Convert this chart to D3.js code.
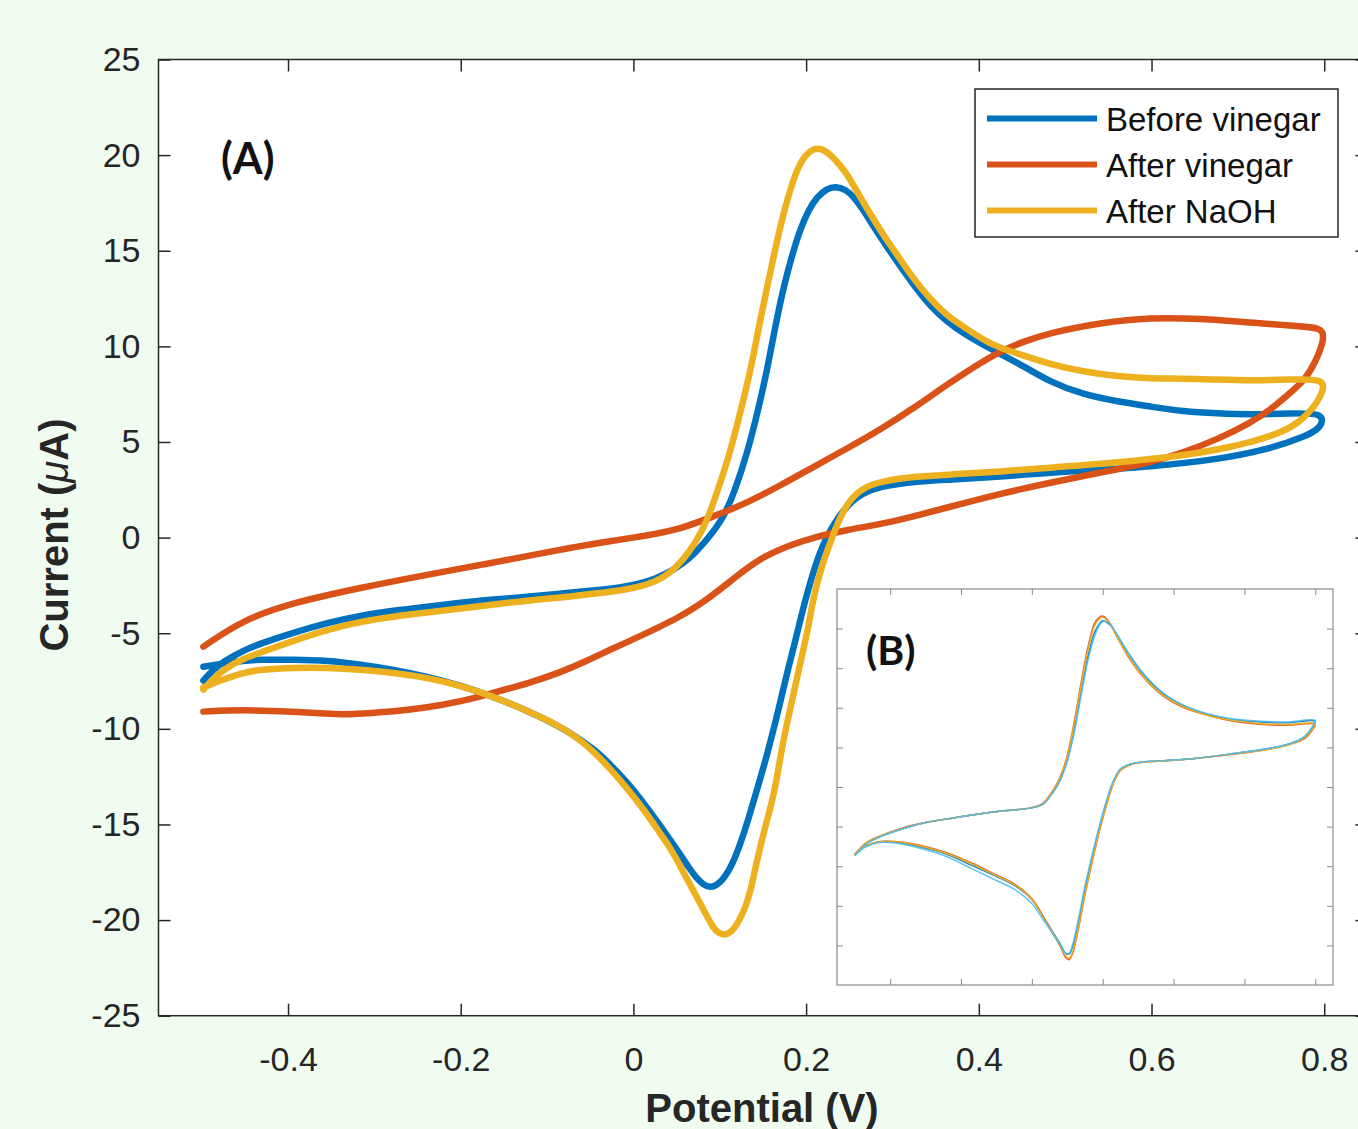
<!DOCTYPE html>
<html>
<head>
<meta charset="utf-8">
<script src="https://cdn.jsdelivr.net/npm/d3@7"></script>
<style>
  html, body { margin: 0; padding: 0; background: #effcef; overflow: hidden; }
  svg { display: block; }
</style>
</head>
<body>
<div id="chart"></div>
<script>
// ---- data (potential V, current uA) ----
// each scan: forward sweep -0.5 -> 0.8 V, then back to -0.5 V
const beforeVinegar = [
  [-0.498,-7.48],[-0.488,-6.96],[-0.473,-6.43],[-0.452,-5.91],[-0.432,-5.54],[-0.394,-4.97],[-0.354,-4.45],
  [-0.316,-4.08],[-0.278,-3.82],[-0.239,-3.61],[-0.200,-3.40],[-0.162,-3.24],[-0.123,-3.09],[-0.085,-2.93],
  [-0.046,-2.77],[-0.015,-2.62],[0.008,-2.41],[0.026,-2.14],[0.043,-1.78],[0.057,-1.36],[0.070,-0.89],
  [0.087,0.00],[0.104,0.99],[0.118,2.51],[0.132,4.45],[0.144,6.59],[0.155,8.79],[0.164,10.98],[0.174,13.13],
  [0.184,14.80],[0.193,16.11],[0.203,17.15],[0.213,17.83],[0.224,18.25],[0.234,18.36],[0.246,18.20],
  [0.255,17.83],[0.266,17.15],[0.278,16.27],[0.292,15.32],[0.306,14.38],[0.324,13.23],[0.344,12.08],
  [0.363,11.30],[0.382,10.67],[0.413,9.88],[0.445,9.15],[0.483,8.11],[0.521,7.48],[0.561,7.11],[0.599,6.85],
  [0.637,6.59],[0.676,6.49],[0.715,6.43],[0.761,6.49],[0.800,6.54],
  [0.797,5.75],[0.778,5.28],[0.734,4.60],[0.676,4.08],[0.599,3.71],[0.521,3.50],[0.483,3.40],[0.425,3.19],
  [0.367,3.03],[0.324,2.93],[0.292,2.72],[0.272,2.46],[0.258,2.09],[0.247,1.62],[0.237,1.05],[0.228,0.37],
  [0.219,-0.42],[0.211,-1.41],[0.203,-2.62],[0.195,-3.97],[0.187,-5.49],[0.178,-7.06],[0.170,-8.63],
  [0.161,-10.25],[0.152,-11.82],[0.142,-13.34],[0.133,-14.75],[0.124,-16.00],[0.115,-17.05],[0.105,-17.83],
  [0.096,-18.20],[0.089,-18.30],[0.081,-18.15],[0.073,-17.80],[0.064,-17.25],[0.054,-16.55],[0.041,-15.70],
  [0.026,-14.75],[0.008,-13.65],[-0.007,-12.80],[-0.027,-11.85],[-0.046,-11.05],[-0.067,-10.40],[-0.085,-9.88],
  [-0.123,-9.05],[-0.162,-8.32],[-0.200,-7.74],[-0.239,-7.27],[-0.278,-6.90],[-0.316,-6.64],[-0.354,-6.43],
  [-0.394,-6.38],[-0.432,-6.38],[-0.452,-6.43],[-0.476,-6.59],[-0.498,-6.75]
];

const afterVinegar = [
  [-0.498,-5.70],[-0.452,-4.29],[-0.394,-3.40],[-0.316,-2.62],[-0.239,-1.94],[-0.162,-1.31],[-0.085,-0.63],
  [-0.038,-0.26],[0.008,0.05],[0.054,0.42],[0.101,1.26],[0.132,1.83],[0.170,2.72],[0.209,3.71],[0.247,4.65],
  [0.286,5.65],[0.324,6.75],[0.363,8.00],[0.402,9.15],[0.425,9.73],[0.448,10.20],[0.483,10.72],[0.541,11.24],
  [0.599,11.51],[0.657,11.45],[0.715,11.24],[0.772,11.04],[0.801,10.98],
  [0.798,10.09],[0.790,9.21],[0.778,8.26],[0.761,7.58],[0.738,6.69],[0.715,6.01],[0.676,5.13],[0.637,4.45],
  [0.599,3.92],[0.541,3.40],[0.483,2.88],[0.425,2.30],[0.363,1.57],[0.324,1.10],[0.286,0.70],[0.247,0.40],
  [0.209,0.02],[0.182,-0.38],[0.151,-0.99],[0.130,-1.65],[0.109,-2.40],[0.089,-3.10],[0.070,-3.70],
  [0.051,-4.20],[0.031,-4.65],[0.002,-5.28],[-0.027,-5.86],[-0.056,-6.49],[-0.085,-7.06],[-0.123,-7.64],
  [-0.162,-8.11],[-0.200,-8.58],[-0.239,-8.89],[-0.278,-9.10],[-0.316,-9.21],[-0.336,-9.26],[-0.354,-9.21],
  [-0.394,-9.10],[-0.452,-9.00],[-0.498,-9.10]
];

const afterNaOH = [
  [-0.498,-7.95],[-0.488,-7.43],[-0.473,-6.85],[-0.452,-6.33],[-0.432,-6.01],[-0.394,-5.39],[-0.354,-4.81],
  [-0.316,-4.39],[-0.278,-4.13],[-0.239,-3.92],[-0.200,-3.71],[-0.162,-3.50],[-0.123,-3.29],[-0.085,-3.14],
  [-0.046,-2.93],[-0.015,-2.77],[0.008,-2.56],[0.026,-2.30],[0.043,-1.83],[0.058,-1.15],[0.072,-0.26],
  [0.085,0.84],[0.098,2.51],[0.112,4.45],[0.124,6.59],[0.136,8.79],[0.145,10.98],[0.155,13.13],[0.164,15.06],
  [0.174,17.00],[0.184,18.57],[0.193,19.61],[0.203,20.19],[0.213,20.40],[0.224,20.20],[0.234,19.75],
  [0.246,19.10],[0.255,18.40],[0.266,17.55],[0.278,16.65],[0.292,15.65],[0.306,14.75],[0.324,13.55],
  [0.344,12.45],[0.363,11.61],[0.382,11.04],[0.413,10.09],[0.445,9.62],[0.483,9.05],[0.521,8.68],[0.561,8.42],
  [0.599,8.32],[0.637,8.32],[0.676,8.26],[0.715,8.21],[0.761,8.26],[0.800,8.32],
  [0.799,7.64],[0.788,6.80],[0.772,6.07],[0.753,5.54],[0.715,4.97],[0.676,4.60],[0.637,4.29],[0.561,3.92],
  [0.483,3.66],[0.425,3.45],[0.367,3.30],[0.324,3.19],[0.286,2.93],[0.270,2.67],[0.258,2.30],[0.249,1.83],
  [0.241,1.20],[0.234,0.47],[0.227,-0.37],[0.220,-1.26],[0.213,-2.30],[0.207,-3.50],[0.202,-4.81],
  [0.196,-6.01],[0.190,-7.22],[0.184,-8.47],[0.177,-9.88],[0.171,-11.24],[0.166,-12.66],[0.160,-13.91],
  [0.153,-15.06],[0.147,-16.16],[0.141,-17.31],[0.136,-18.41],[0.130,-19.30],[0.123,-19.98],[0.116,-20.50],
  [0.109,-20.76],[0.102,-20.76],[0.095,-20.55],[0.089,-20.14],[0.080,-19.35],[0.070,-18.51],[0.060,-17.68],
  [0.051,-16.89],[0.041,-16.11],[0.031,-15.48],[0.014,-14.33],[-0.007,-13.13],[-0.027,-12.08],[-0.046,-11.19],
  [-0.065,-10.46],[-0.085,-9.88],[-0.108,-9.36],[-0.137,-8.79],[-0.162,-8.32],[-0.200,-7.74],[-0.239,-7.32],
  [-0.278,-7.06],[-0.316,-6.90],[-0.354,-6.80],[-0.394,-6.80],[-0.432,-6.90],[-0.452,-7.06],[-0.476,-7.43],
  [-0.498,-7.84]
];

const seriesNames = ["Before vinegar", "After vinegar", "After NaOH"];
const seriesData = [beforeVinegar, afterVinegar, afterNaOH];
const seriesColors = ["#0072BD", "#D95319", "#EDB120"];

const xTicks = [-0.4, -0.2, 0, 0.2, 0.4, 0.6, 0.8];
const yTicks = [-25, -20, -15, -10, -5, 0, 5, 10, 15, 20, 25];

// inset (B): repeated scans share the same potential steps
const insetPotential = [
  -0.50,-0.47,-0.43,-0.36,-0.29,-0.22,-0.15,-0.08,-0.01,0.03,0.06,0.08,0.10,0.12,0.14,0.16,0.18,0.20,0.22,
  0.24,0.27,0.31,0.37,0.43,0.50,0.57,0.65,0.72,0.80,
  0.79,0.77,0.73,0.66,0.58,0.46,0.38,0.32,0.28,0.25,0.23,0.21,0.19,0.17,0.15,0.13,0.115,0.105,0.095,0.08,
  0.06,0.03,0.00,-0.05,-0.10,-0.17,-0.24,-0.31,-0.38,-0.43,-0.47,-0.50
];
const insetScan1 = [
  -8.6,-7.2,-6.3,-5.2,-4.4,-3.9,-3.4,-3.0,-2.7,-2.2,-0.6,1.0,3.5,7.4,12.2,16.8,19.8,21.0,20.5,
  19.2,17.0,14.5,11.8,10.2,9.1,8.5,8.2,8.1,8.3,
  7.4,6.3,5.5,4.8,4.3,3.6,3.35,3.2,2.9,2.2,0.6,-2.1,-5.3,-9.0,-12.9,-17.4,-20.2,-21.1,-21.0,-19.8,
  -18.4,-16.2,-14.2,-12.4,-11.3,-9.9,-8.5,-7.6,-7.0,-6.9,-7.5,-8.6
];
const insetScan2 = [
  -8.5,-7.1,-6.2,-5.1,-4.4,-3.9,-3.4,-3.0,-2.7,-2.1,-0.4,1.3,4.0,8.3,13.4,18.0,20.9,21.6,20.7,
  19.0,16.6,14.1,11.5,10.0,9.0,8.3,7.9,7.8,7.9,
  7.1,6.1,5.4,4.7,4.2,3.6,3.3,3.15,2.85,2.1,0.4,-2.4,-5.7,-9.5,-13.6,-18.2,-21.0,-21.8,-21.5,-20.1,
  -18.5,-16.2,-14.1,-12.2,-11.1,-9.6,-8.3,-7.4,-6.9,-6.9,-7.5,-8.5
];
const insetScan3 = [
  -8.6,-7.1,-6.2,-5.2,-4.4,-3.9,-3.4,-3.0,-2.7,-2.2,-0.5,1.2,3.8,8.0,13.0,17.6,20.6,21.4,20.6,
  19.0,16.7,14.2,11.6,10.1,9.0,8.4,8.0,7.9,8.0,
  7.2,6.2,5.4,4.7,4.25,3.6,3.3,3.15,2.85,2.1,0.5,-2.3,-5.6,-9.4,-13.4,-18.0,-20.8,-21.6,-21.3,-20.0,
  -18.5,-16.3,-14.2,-12.3,-11.2,-9.7,-8.4,-7.5,-6.9,-6.9,-7.5,-8.6
];
const insetScan4 = [
  -8.7,-7.3,-6.3,-5.2,-4.4,-3.9,-3.4,-3.0,-2.7,-2.2,-0.7,0.8,3.2,7.0,11.8,16.3,19.4,20.9,20.6,
  19.3,17.1,14.6,11.9,10.3,9.2,8.6,8.3,8.2,8.4,
  7.5,6.4,5.5,4.8,4.3,3.6,3.35,3.2,2.9,2.3,0.8,-1.8,-5.0,-8.6,-12.5,-17.0,-19.9,-21.0,-21.0,-19.9,
  -18.6,-16.6,-14.7,-12.9,-11.8,-10.3,-8.8,-7.8,-7.1,-7.0,-7.6,-8.7
];
const insetScans = [insetScan1, insetScan2, insetScan3, insetScan4];
const insetColors = ["#0072BD", "#D95319", "#EDB120", "#4DBEEE"];

// ---- layout ----
const W = 1358, H = 1129;
const ink = "#262626";

const svg = d3.select("#chart").append("svg")
  .attr("width", W)
  .attr("height", H)
  .style("font-family", "'Liberation Sans', Arial, sans-serif");

const x = d3.scaleLinear().domain([-0.55, 0.85]).range([158.5, 1367.4]);
const y = d3.scaleLinear().domain([-25, 25]).range([1015.7, 59.5]);

svg.append("rect")
  .attr("x", x(-0.55)).attr("y", y(25))
  .attr("width", x(0.85) - x(-0.55)).attr("height", y(-25) - y(25))
  .attr("fill", "white");

// axes with inward ticks on all four sides
function styleAxis(g) {
  g.select(".domain").remove();
  g.selectAll("line").attr("stroke", ink).attr("stroke-width", 1.5);
  g.selectAll("text").attr("fill", ink).style("font-size", "34px");
}

svg.append("g")
  .attr("transform", `translate(0,${y(-25)})`)
  .call(d3.axisBottom(x).tickValues(xTicks).tickSizeInner(-12).tickSizeOuter(0).tickPadding(31)
    .tickFormat(d => String(d)))
  .call(styleAxis);

svg.append("g")
  .attr("transform", `translate(0,${y(25)})`)
  .call(d3.axisTop(x).tickValues(xTicks).tickSizeInner(-12).tickSizeOuter(0).tickFormat(""))
  .call(styleAxis);

svg.append("g")
  .attr("transform", `translate(${x(-0.55)},0)`)
  .call(d3.axisLeft(y).tickValues(yTicks).tickSizeInner(-12).tickSizeOuter(0).tickPadding(18)
    .tickFormat(d => String(d)))
  .call(styleAxis);

svg.append("g")
  .attr("transform", `translate(${x(0.85)},0)`)
  .call(d3.axisRight(y).tickValues(yTicks).tickSizeInner(-12).tickSizeOuter(0).tickFormat(""))
  .call(styleAxis);

svg.append("rect")
  .attr("x", x(-0.55)).attr("y", y(25))
  .attr("width", x(0.85) - x(-0.55)).attr("height", y(-25) - y(25))
  .attr("fill", "none").attr("stroke", ink).attr("stroke-width", 1.5);

// axis titles
svg.append("text")
  .attr("x", 762).attr("y", 1122)
  .attr("text-anchor", "middle")
  .attr("font-weight", "bold").attr("font-size", 40).attr("fill", ink)
  .text("Potential (V)");

const yTitle = svg.append("text")
  .attr("transform", "translate(68,535) rotate(-90)")
  .attr("text-anchor", "middle")
  .attr("font-weight", "bold").attr("font-size", 40).attr("fill", ink);
yTitle.append("tspan").text("Current (");
yTitle.append("tspan").attr("font-style", "italic").attr("font-weight", "normal").text("\u03BC");
yTitle.append("tspan").text("A)");

// curves
const line = d3.line()
  .x(d => x(d[0]))
  .y(d => y(d[1]))
  .curve(d3.curveBasis);

svg.append("g")
  .selectAll("path")
  .data(seriesData)
  .join("path")
  .attr("d", line)
  .attr("fill", "none")
  .attr("stroke", (d, i) => seriesColors[i])
  .attr("stroke-width", 6.5)
  .attr("stroke-linejoin", "round")
  .attr("stroke-linecap", "round");

svg.append("text")
  .attr("x", 221).attr("y", 174)
  .attr("font-family", "Lato, 'Open Sans', sans-serif")
  .attr("font-weight", "bold").attr("font-size", 43).attr("fill", "#111")
  .text("(A)");

// legend
const legend = svg.append("g");
legend.append("rect")
  .attr("x", 975).attr("y", 89).attr("width", 363).attr("height", 148)
  .attr("fill", "white").attr("stroke", ink).attr("stroke-width", 1.5);
const legendRows = legend.selectAll("g.row")
  .data(seriesNames)
  .join("g")
  .attr("class", "row")
  .attr("transform", (d, i) => `translate(0,${118.5 + i * 46})`);
legendRows.append("line")
  .attr("x1", 987).attr("x2", 1097)
  .attr("stroke", (d, i) => seriesColors[i])
  .attr("stroke-width", 6);
legendRows.append("text")
  .attr("x", 1106).attr("y", 12)
  .attr("font-size", 33).attr("fill", "#111")
  .text(d => d);

// inset (B)
const ix = d3.scaleLinear().domain([-0.55, 0.85]).range([837, 1333]);
const iy = d3.scaleLinear().domain([-25, 25]).range([985, 589]);
const inset = svg.append("g");
inset.append("rect")
  .attr("x", 837).attr("y", 589).attr("width", 496).attr("height", 396)
  .attr("fill", "white");

const insetGray = "#8a8a8a";
function styleInset(g) {
  g.select(".domain").remove();
  g.selectAll("line").attr("stroke", insetGray).attr("stroke-width", 1);
}
inset.append("g").attr("transform", "translate(0,985)")
  .call(d3.axisBottom(ix).tickValues(xTicks).tickSizeInner(-6).tickSizeOuter(0).tickFormat(""))
  .call(styleInset);
inset.append("g").attr("transform", "translate(0,589)")
  .call(d3.axisTop(ix).tickValues(xTicks).tickSizeInner(-6).tickSizeOuter(0).tickFormat(""))
  .call(styleInset);
inset.append("g").attr("transform", "translate(837,0)")
  .call(d3.axisLeft(iy).tickValues(yTicks.slice(1, -1)).tickSizeInner(-6).tickSizeOuter(0).tickFormat(""))
  .call(styleInset);
inset.append("g").attr("transform", "translate(1333,0)")
  .call(d3.axisRight(iy).tickValues(yTicks.slice(1, -1)).tickSizeInner(-6).tickSizeOuter(0).tickFormat(""))
  .call(styleInset);
inset.append("rect")
  .attr("x", 837).attr("y", 589).attr("width", 496).attr("height", 396)
  .attr("fill", "none").attr("stroke", insetGray).attr("stroke-width", 1.2);

const insetLine = d3.line()
  .x((d, i) => ix(insetPotential[i]))
  .y(d => iy(d))
  .curve(d3.curveCatmullRom.alpha(0.5));

inset.append("g")
  .selectAll("path")
  .data(insetScans)
  .join("path")
  .attr("d", insetLine)
  .attr("fill", "none")
  .attr("stroke", (d, i) => insetColors[i])
  .attr("stroke-width", 1.5)
  .attr("opacity", 0.9);

inset.append("text")
  .attr("x", 866).attr("y", 665)
  .attr("font-family", "Lato, 'Open Sans', sans-serif")
  .attr("font-weight", "bold").attr("font-size", 41).attr("fill", "#111")
  .text("(B)");
</script>
</body>
</html>
